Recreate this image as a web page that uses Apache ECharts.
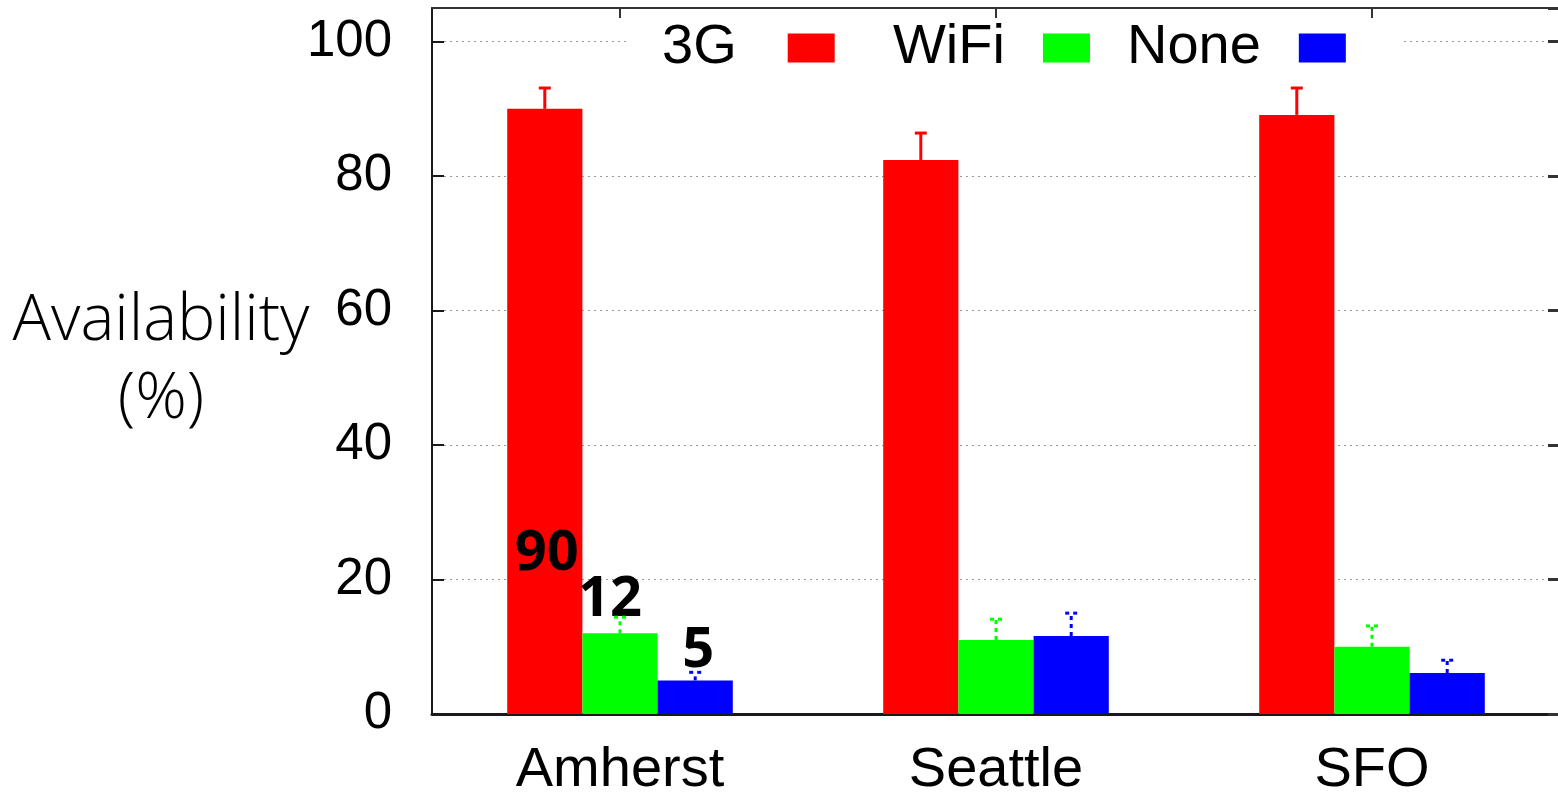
<!DOCTYPE html>
<html>
<head>
<meta charset="utf-8">
<script src="https://cdn.jsdelivr.net/npm/echarts@6/dist/echarts.min.js"></script>
<style>
  html, body { margin: 0; padding: 0; background: #fff; }
  #chart { width: 1558px; height: 793px; }
</style>
</head>
<body>
<div id="chart"></div>
<script>
// Network availability by city (percent of time), with upper error bars
const cities = ['Amherst', 'Seattle', 'SFO'];
const networkNames = ['3G', 'WiFi', 'None'];
const avail3G = [90, 82.4, 89.1];
const availWiFi = [12, 11, 10];
const availNone = [5, 11.6, 6.1];
// upper error (added on top of each bar)
const err3G = [3.1, 4.0, 4.0];
const errWiFi = [2.4, 3.1, 3.1];
const errNone = [1.2, 3.4, 1.9];
const yTicks = [0, 20, 40, 60, 80, 100];

const colors = ['#ff0000', '#00ff00', '#0000ff'];
const values = [avail3G, availWiFi, availNone];
const errors = [err3G, errWiFi, errNone];

// value labels printed for the first city only
const labelStyles = [
  { position: 'insideBottom', distance: 132, offset: [2, 0] },
  { position: 'top', distance: 5, offset: [-10, 0] },
  { position: 'top', distance: 1, offset: [3, 0] }
];

const barSeries = networkNames.map((name, k) => ({
  name: name,
  type: 'bar',
  barGap: '0%',
  barCategoryGap: '40%',
  itemStyle: { color: colors[k] },
  z: 2,
  data: values[k].map((v, i) => i === 0 ? {
    value: v,
    label: Object.assign({
      show: true,
      formatter: '{c}',
      fontFamily: 'Open Sans',
      fontWeight: 'bold',
      fontSize: 56,
      color: '#000'
    }, labelStyles[k])
  } : v)
}));

const errSeries = networkNames.map((name, k) => ({
  name: name + ' error',
  type: 'custom',
  z: 3,
  silent: true,
  data: values[k].map((v, i) => [i, v, errors[k][i]]),
  renderItem: function (params, api) {
    const base = api.coord([api.value(0), api.value(1)]);
    const top = api.coord([api.value(0), api.value(1) + api.value(2)]);
    const band = api.size([1, 0])[0];
    const barW = band * 0.6 / 3;
    const x = base[0] + (k - 1) * barW;
    const style = {
      stroke: colors[k],
      lineWidth: 3,
      lineDash: k === 0 ? null : [4, 4]
    };
    return {
      type: 'group',
      children: [
        { type: 'line', shape: { x1: x, y1: base[1], x2: x, y2: top[1] }, style: style },
        { type: 'line', shape: { x1: x - 6, y1: top[1], x2: x + 6, y2: top[1] }, style: style }
      ]
    };
  }
}));

// key: label text sits to the left of its colour sample
const legendBase = {
  top: 20,
  align: 'right',
  itemWidth: 47,
  itemHeight: 29,
  itemGap: 37,
  backgroundColor: '#fff',
  textStyle: { fontSize: 56, fontFamily: 'Liberation Sans', color: '#000' }
};

const chart = echarts.init(document.getElementById('chart'));
chart.setOption({
  animation: false,
  backgroundColor: '#fff',
  grid: { left: 432, right: -2, top: 8, bottom: 79, outerBoundsMode: 'none', containLabel: false },
  legend: [
    Object.assign({}, legendBase, {
      left: 628,
      padding: [0, 29, 0, 34],
      data: [{ name: networkNames[0], icon: 'rect', textStyle: { padding: [0, 46, 0, 0] } }]
    }),
    Object.assign({}, legendBase, {
      left: 864,
      padding: [0, 55, 0, 29],
      data: [
        { name: networkNames[1], icon: 'rect', textStyle: { padding: [0, 33, 0, 0] } },
        { name: networkNames[2], icon: 'rect', textStyle: { padding: [0, 33, 0, 0] } }
      ]
    })
  ],
  xAxis: [
    {
      type: 'category',
      data: cities,
      position: 'bottom',
      axisLine: { lineStyle: { color: '#1a1a1a', width: 3 } },
      axisTick: { show: false },
      axisLabel: { fontSize: 56, fontFamily: 'Liberation Sans', color: '#000', margin: 29 }
    },
    {
      type: 'category',
      data: cities,
      position: 'top',
      axisLine: { onZero: false, lineStyle: { color: '#333', width: 2 } },
      axisTick: { show: true, inside: true, length: 10, alignWithLabel: true, lineStyle: { color: '#333', width: 2 } },
      axisLabel: { show: false }
    }
  ],
  yAxis: [
    {
      type: 'value',
      min: yTicks[0],
      max: 105,
      interval: 20,
      position: 'left',
      name: 'Availability\n(%)',
      nameLocation: 'middle',
      nameRotate: 0,
      nameGap: 271,
      nameMoveOverlap: false,
      nameTextStyle: {
        fontSize: 64, fontFamily: 'Open Sans', fontWeight: 300, color: '#000',
        align: 'center', verticalAlign: 'middle', lineHeight: 78, padding: [48, 0, 0, 0]
      },
      axisLine: { show: true, lineStyle: { color: '#1a1a1a', width: 2 } },
      axisTick: { show: true, inside: true, length: 12, lineStyle: { color: '#1a1a1a', width: 2 } },
      axisLabel: {
        fontSize: 51, fontFamily: 'Liberation Sans', color: '#000', margin: 40,
        showMaxLabel: false,
        formatter: v => (yTicks.indexOf(v) >= 0 ? String(v) : '')
      },
      splitLine: { show: true, showMaxLine: false, lineStyle: { color: '#999', type: [2, 4], width: 1 } }
    },
    {
      type: 'value',
      min: yTicks[0],
      max: 105,
      interval: 20,
      position: 'right',
      axisLine: { show: false },
      axisTick: { show: true, inside: true, length: 12, lineStyle: { color: '#333', width: 3 } },
      axisLabel: { show: false },
      splitLine: { show: false }
    }
  ],
  series: barSeries.concat(errSeries)
});
</script>
</body>
</html>
